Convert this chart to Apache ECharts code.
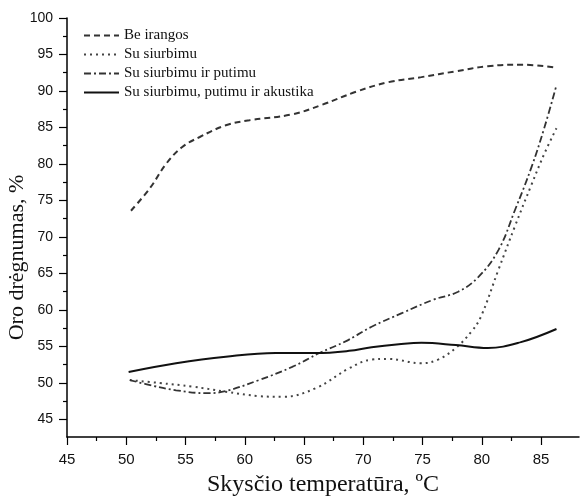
<!DOCTYPE html>
<html>
<head>
<meta charset="utf-8">
<script src="https://cdn.jsdelivr.net/npm/echarts@6/dist/echarts.min.js"></script>
<style>html,body{margin:0;padding:0;background:#fff;}#c{width:580px;height:498px;}</style>
</head>
<body>
<div id="c"></div>
<script>
// Series names
const seriesNames = ['Be irangos', 'Su siurbimu', 'Su siurbimu ir putimu', 'Su siurbimu, putimu ir akustika'];

// Be irangos
const beIrangosT = [50.4, 52.0, 53.4, 54.7, 56.2, 58.4, 60.4, 64.0, 66.5, 69.4, 72.1, 74.9, 77.8, 80.5, 83.3, 86.3];
const beIrangosV = [73.6, 76.7, 80.1, 82.3, 83.7, 85.3, 86.0, 86.8, 88.1, 89.9, 91.2, 91.9, 92.7, 93.4, 93.6, 93.2];

// Su siurbimu
const siurbT = [50.3, 52.8, 55.6, 58.4, 61.2, 63.2, 66.0, 68.8, 70.7, 72.1, 74.9, 76.3, 77.8, 79.1, 79.9, 81.4, 82.8, 84.2, 85.3, 86.3];
const siurbV = [50.4, 50.0, 49.5, 48.8, 48.2, 48.1, 49.3, 52.0, 53.2, 53.3, 52.7, 53.2, 54.8, 57.0, 59.0, 65.5, 71.5, 77.2, 81.5, 84.9];

// Su siurbimu ir putimu
const putT = [50.3, 52.3, 54.2, 56.8, 58.4, 61.2, 64.0, 66.3, 68.5, 70.7, 73.3, 75.9, 78.0, 79.7, 81.4, 82.8, 84.2, 85.3, 86.3];
const putV = [50.4, 49.6, 49.0, 48.6, 48.9, 50.4, 52.2, 54.1, 55.7, 57.7, 59.6, 61.4, 62.5, 64.5, 68.2, 73.7, 79.6, 85.1, 90.8];

// Su siurbimu, putimu ir akustika
const akT = [50.2, 54.2, 58.4, 62.6, 66.0, 68.8, 70.7, 73.0, 74.9, 77.8, 80.5, 83.3, 86.3];
const akV = [51.5, 52.7, 53.6, 54.1, 54.1, 54.4, 54.9, 55.3, 55.5, 55.2, 54.8, 55.6, 57.4];

// Axis ticks
const xMajorTicks = [45, 50, 55, 60, 65, 70, 75, 80, 85];
const xMinorTicks = [47.5, 52.5, 57.5, 62.5, 67.5, 72.5, 77.5, 82.5];
const yMajorTicks = [45, 50, 55, 60, 65, 70, 75, 80, 85, 90, 95, 100];
const yMinorTicks = [47.5, 52.5, 57.5, 62.5, 67.5, 72.5, 77.5, 82.5, 87.5, 92.5, 97.5];

const xTitle = 'Skysčio temperatūra, ºC';
const yTitle = 'Oro drėgnumas, %';

function pairs(t, v) { return t.map((x, i) => [x, v[i]]); }

const chart = echarts.init(document.getElementById('c'), null, {renderer: 'canvas'});
const XMIN = 45, XMAX = 88.2, YMIN = 42.6, YMAX = 100;
const serif = '"Liberation Serif", "DejaVu Serif", serif';
const sans = '"Liberation Sans", Arial, sans-serif';

const styles = [
  {type: [6, 4], width: 2, color: '#333'},
  {type: [2, 4], width: 2, color: '#444'},
  {type: [7, 3, 2, 3], width: 1.8, color: '#333'},
  {type: 'solid', width: 2, color: '#111'}
];
const datas = [pairs(beIrangosT, beIrangosV), pairs(siurbT, siurbV), pairs(putT, putV), pairs(akT, akV)];

chart.setOption({
  animation: false,
  backgroundColor: '#fff',
  grid: {left: 67, top: 18, right: 1, bottom: 61, containLabel: false, outerBoundsMode: 'none'},
  legend: {
    orient: 'vertical', left: 83, top: 28, padding: 0, itemWidth: 35, itemHeight: 14, itemGap: 4,
    itemStyle: {opacity: 0},
    textStyle: {fontFamily: serif, fontSize: 15, lineHeight: 14, color: '#111'},
    data: seriesNames
  },
  xAxis: [{
    type: 'value', min: XMIN, max: XMAX,
    name: xTitle, nameLocation: 'middle', nameGap: 36, nameMoveOverlap: false,
    nameTextStyle: {fontFamily: serif, fontSize: 24, color: '#111'},
    axisLine: {lineStyle: {color: '#000', width: 1.5}},
    axisTick: {length: 8, customValues: xMajorTicks, lineStyle: {color: '#000', width: 1.2}},
    axisLabel: {customValues: xMajorTicks, fontFamily: sans, fontSize: 15, color: '#111', margin: 15},
    splitLine: {show: false}
  }, {
    type: 'value', min: XMIN, max: XMAX, position: 'bottom',
    axisLine: {show: false},
    axisTick: {length: 4, customValues: xMinorTicks, lineStyle: {color: '#000', width: 1.2}},
    axisLabel: {show: false}, splitLine: {show: false}
  }],
  yAxis: [{
    type: 'value', min: YMIN, max: YMAX,
    name: yTitle, nameLocation: 'middle', nameGap: 39, nameRotate: 90, nameMoveOverlap: false,
    nameTextStyle: {fontFamily: serif, fontSize: 22, color: '#111', padding: [0, 60, 0, 0]},
    axisLine: {show: true, lineStyle: {color: '#000', width: 1.5}},
    axisTick: {show: true, length: 8, customValues: yMajorTicks, lineStyle: {color: '#000', width: 1.2}},
    axisLabel: {customValues: yMajorTicks, fontFamily: sans, fontSize: 14, color: '#111', margin: 14},
    splitLine: {show: false}
  }, {
    type: 'value', min: YMIN, max: YMAX, position: 'left', offset: 0,
    axisLine: {show: false},
    axisTick: {show: true, length: 4, customValues: yMinorTicks, lineStyle: {color: '#000', width: 1.2}},
    axisLabel: {show: false}, splitLine: {show: false}
  }],
  series: seriesNames.map((n, i) => ({
    name: n, type: 'line', smooth: 0.4, symbol: 'none',
    xAxisIndex: 0, yAxisIndex: 0,
    lineStyle: styles[i], itemStyle: {color: styles[i].color},
    data: datas[i]
  }))
});
</script>
</body>
</html>
